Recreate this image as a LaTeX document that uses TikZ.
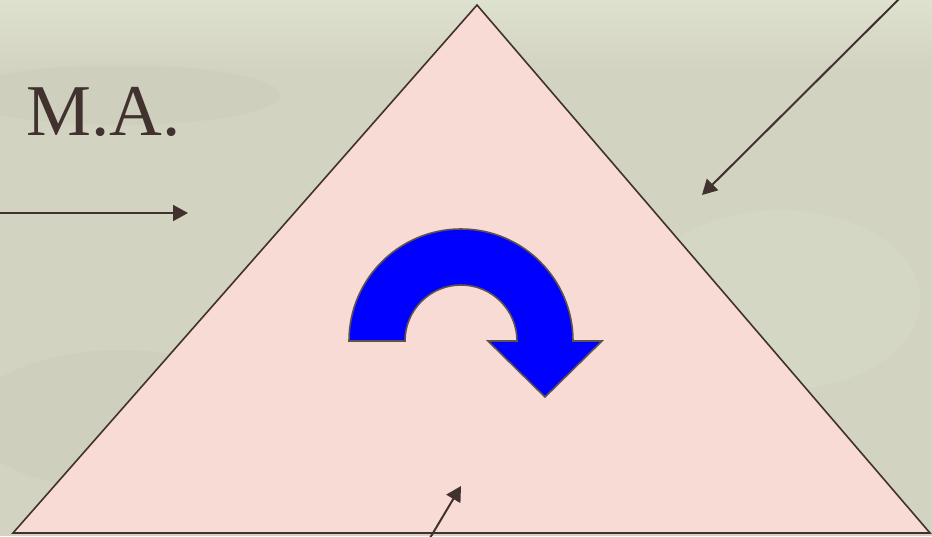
\documentclass[tikz,border=0pt]{standalone}
\usepackage{fontspec}
\setmainfont{Liberation Serif}
\usetikzlibrary{arrows.meta}
\definecolor{marble}{HTML}{D2D3C1}
\definecolor{marblelight}{HTML}{DFE1CF}
\definecolor{marbledark}{HTML}{C6C8B4}
\definecolor{ink}{HTML}{41322F}
\definecolor{blush}{HTML}{F9DBD5}
\definecolor{turn}{HTML}{0000FF}
\tikzset{
  pointer/.style  = {-{Triangle[length=15pt,width=16pt]}, draw=ink, line width=2pt},
  slab/.style     = {draw=ink, line width=1.6pt, fill=blush, line join=miter},
  turnarrow/.style = {draw=ink!85, line width=1.6pt, fill=turn},
  caption/.style  = {font=\fontsize{73}{80}\selectfont, text=ink, inner sep=0pt},
}

\begin{document}
\begin{tikzpicture}[x=1pt, y=-1pt]
  % page and marble ground
  \useasboundingbox (0,0) rectangle (932,536);
  \clip (0,0) rectangle (932,536);
  \fill[marble] (0,0) rectangle (932,536);
  \shade[top color=marblelight, bottom color=marble] (0,0) rectangle (932,70);
  \fill[marbledark, opacity=.25] (120,95) ellipse[x radius=160, y radius=30];
  \fill[marblelight, opacity=.3] (780,300) ellipse[x radius=140, y radius=90];
  \fill[marbledark, opacity=.25] (120,420) ellipse[x radius=150, y radius=70];

  % corners of the triangle
  \coordinate (apex) at (477,5);
  \coordinate (baseleft) at (13,533);
  \coordinate (baseright) at (930,533);
  \draw[slab] (apex) -- (baseright) -- (baseleft) -- cycle;

  % turning arrow
  \draw[turnarrow] (349,341) arc[start angle=180, end angle=360, radius=112]
    -- (602,341) -- (545,397) -- (488,341) -- (517,341)
    arc[start angle=360, end angle=180, radius=56] -- cycle;

  \node[caption, anchor=base west] (title) at (26,135) {M.A.};

  % pointers
  \coordinate (lefttail) at (-2,213);
  \coordinate (lefthead) at (188,213);
  \coordinate (toptail) at (900,-2);
  \coordinate (tophead) at (702,195);
  \coordinate (bottail) at (430,538);
  \coordinate (bothead) at (461,486);
  \draw[pointer] (lefttail) -- (lefthead);
  \draw[pointer] (toptail) -- (tophead);
  \draw[pointer] (bottail) -- (bothead);
\end{tikzpicture}
\end{document}
